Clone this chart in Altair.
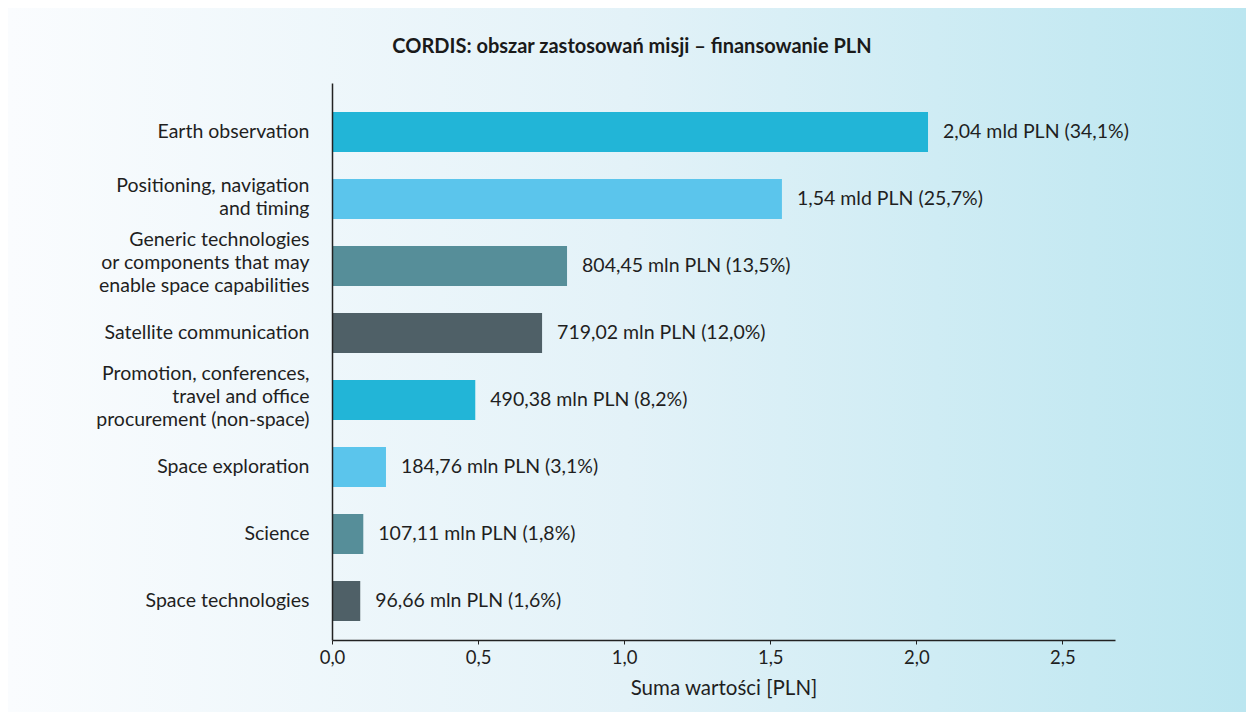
import altair as alt
import pandas as pd

# Mission application areas (CORDIS) and their funding in billions PLN
kategorie = [
    "Earth observation",
    "Positioning, navigation|and timing",
    "Generic technologies|or components that may|enable space capabilities",
    "Satellite communication",
    "Promotion, conferences,|travel and office|procurement (non-space)",
    "Space exploration",
    "Science",
    "Space technologies",
]
wartosci_mld = [2.04, 1.54, 0.80445, 0.71902, 0.49038, 0.18476, 0.10711, 0.09666]
etykiety = [
    "2,04 mld PLN (34,1%)",
    "1,54 mld PLN (25,7%)",
    "804,45 mln PLN (13,5%)",
    "719,02 mln PLN (12,0%)",
    "490,38 mln PLN (8,2%)",
    "184,76 mln PLN (3,1%)",
    "107,11 mln PLN (1,8%)",
    "96,66 mln PLN (1,6%)",
]
x_ticks = [0.0, 0.5, 1.0, 1.5, 2.0, 2.5]
tytul = "CORDIS: obszar zastosowań misji – finansowanie PLN"

paleta = ["#22b5d7", "#5bc5ec", "#568e99", "#4f6067"] * 2

df = pd.DataFrame({"obszar": kategorie, "wartosc": wartosci_mld, "etykieta": etykiety})

FONT = "Lato"
W, H = 783, 557
PAD_L, PAD_T = 332, 83
LH = 23

# multi-line category labels are lifted so the block sits on the bar
label_shift = {
    "condition": [
        {"test": "length(split(datum.label, '|')) == 3", "value": -LH - 3},
        {"test": "length(split(datum.label, '|')) == 2", "value": -LH / 2 - 1.5},
    ],
    "value": 0,
}

y_enc = alt.Y(
    "obszar:N",
    sort=kategorie,
    scale=alt.Scale(paddingInner=0.403, paddingOuter=0.358, align=0.604),
    axis=alt.Axis(
        title=None,
        ticks=False,
        zindex=1,
        domainColor="#222222",
        domainWidth=1.5,
        labelExpr="split(datum.label, '|')",
        labelFont=FONT,
        labelFontSize=19.5,
        labelColor="#1f1f1f",
        labelPadding=23,
        labelLineHeight=LH,
        labelLimit=400,
        labelOffset=label_shift,
    ),
)

x_enc = alt.X(
    "wartosc:Q",
    scale=alt.Scale(domain=[0, 2.68], nice=False, zero=True),
    axis=alt.Axis(
        title="Suma wartości [PLN]",
        values=x_ticks,
        labelExpr="replace(format(datum.value, '.1f'), '.', ',')",
        labelFlush=False,
        grid=False,
        zindex=1,
        domainColor="#222222",
        domainWidth=1.5,
        tickColor="#222222",
        tickSize=4,
        labelFont=FONT,
        labelFontSize=18.5,
        labelColor="#1f1f1f",
        labelPadding=4,
        titleFont=FONT,
        titleFontSize=20.5,
        titleFontWeight="normal",
        titleColor="#1f1f1f",
        titlePadding=12,
    ),
)

# soft horizontal gradient behind the whole figure
tlo = alt.Chart(pd.DataFrame({"t": [0]})).mark_rect(
    fill=alt.Gradient(
        gradient="linear",
        stops=[
            alt.GradientStop(color="#fafcfe", offset=0),
            alt.GradientStop(color="#e3f2f8", offset=0.5),
            alt.GradientStop(color="#bbe6f0", offset=1),
        ],
        x1=0, x2=1, y1=0, y2=0,
    ),
    stroke=None,
).encode(
    x=alt.value(8 - PAD_L),
    x2=alt.value(1246 - PAD_L),
    y=alt.value(8 - PAD_T),
    y2=alt.value(712 - PAD_T),
)

# chart heading, centred over the whole figure
naglowek = alt.Chart(pd.DataFrame({"t": [tytul]})).mark_text(
    align="center", baseline="middle", font=FONT, fontSize=20, fontWeight="bold", color="#1a1a1a"
).encode(
    x=alt.value(632 - PAD_L),
    y=alt.value(47 - PAD_T),
    text="t:N",
)

slupki = alt.Chart(df).mark_bar().encode(
    x=x_enc,
    y=y_enc,
    color=alt.Color("obszar:N", scale=alt.Scale(domain=kategorie, range=paleta), legend=None),
)

opisy = alt.Chart(df).mark_text(
    align="left", baseline="middle", dx=15, font=FONT, fontSize=19.5, color="#1f1f1f"
).encode(
    x="wartosc:Q",
    y=alt.Y("obszar:N", sort=kategorie),
    text="etykieta:N",
)

chart = alt.layer(tlo, naglowek, slupki, opisy).properties(
    width=W,
    height=H,
    autosize=alt.AutoSizeParams(type="none"),
    padding={"left": PAD_L, "top": PAD_T, "right": 1246 - PAD_L - W, "bottom": 712 - PAD_T - H},
    background="white",
).configure_view(stroke=None)

chart.save("out.html", embed_options={"renderer": "svg", "actions": False})
